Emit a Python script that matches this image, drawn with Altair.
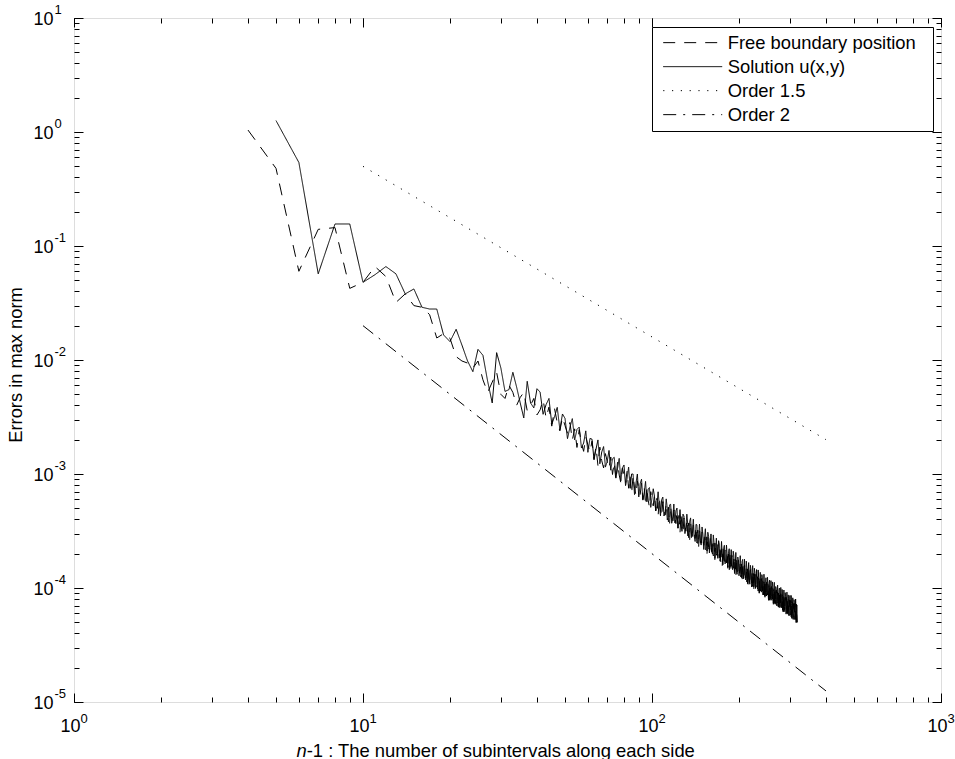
import altair as alt
import pandas as pd

# ---------------- data ----------------
names = ["Free boundary position", "Solution u(x,y)", "Order 1.5", "Order 2"]

# Free boundary position error, n-1 = 4 .. 40
fb_first_n = 4
fb_head = [1.04, 0.48, 0.06, 0.14, 0.145, 0.0425, 0.048, 0.066, 0.054, 0.032,
           0.038, 0.030, 0.029, 0.025, 0.0156, 0.017, 0.0155, 0.0107, 0.0098, 0.0094,
           0.0085, 0.0098, 0.0067, 0.0052, 0.0064, 0.0078, 0.0050, 0.0046, 0.0060, 0.0052,
           0.0040, 0.0047, 0.0052, 0.0036, 0.0040, 0.0046, 0.0033]
# n-1 = 41 .. 318, values in units of 1e-5
fb_tail_e5 = [
    365, 448, 310, 386, 263, 375, 282, 239, 315, 266,
    228, 283, 198, 249, 171, 245, 186, 158, 212, 180,
    156, 194, 136, 173, 119, 172, 131, 113, 151, 129,
    112, 141, 99, 127, 88, 128, 98, 84, 113, 97,
    84, 106, 75, 96, 67, 97, 75, 65, 87, 75,
    66, 83, 59, 76, 53, 77, 59, 51, 70, 60,
    52.5, 66.7, 47.5, 61.2, 42.9, 62.8, 48.5, 42.2, 57.3, 49.6,
    43.6, 55.4, 39.6, 51.1, 35.9, 52.8, 40.7, 35.5, 48.3, 41.7,
    36.7, 46.8, 33.5, 43.3, 30.5, 44.7, 34.6, 30.2, 41.1, 35.6,
    31.5, 40.0, 28.7, 37.2, 26.1, 38.4, 29.7, 26.0, 35.5, 30.8,
    27.2, 34.7, 24.9, 32.2, 22.7, 33.4, 25.9, 22.6, 30.9, 26.8,
    23.7, 30.3, 21.7, 28.1, 19.8, 29.2, 22.7, 19.8, 27.1, 23.6,
    20.8, 26.6, 19.1, 24.8, 17.5, 25.8, 20.1, 17.6, 24.0, 20.9,
    18.4, 23.7, 17.0, 22.1, 15.6, 23.0, 17.9, 15.7, 21.5, 18.7,
    16.6, 21.2, 15.3, 19.8, 14.0, 20.7, 16.1, 14.1, 19.3, 16.8,
    14.9, 19.1, 13.8, 17.9, 12.6, 18.7, 14.5, 12.7, 17.5, 15.2,
    13.5, 17.3, 12.5, 16.2, 11.5, 16.9, 13.2, 11.5, 15.9, 13.8,
    12.2, 15.7, 11.3, 14.7, 10.4, 15.3, 12.0, 10.5, 14.5, 12.5,
    11.1, 14.3, 10.3, 13.4, 9.5, 14.1, 11.0, 9.7, 13.2, 11.5,
    10.2, 13.1, 9.4, 12.3, 8.7, 12.9, 10.0, 8.8, 12.1, 10.5,
    9.4, 12.0, 8.7, 11.3, 8.0, 11.9, 9.2, 8.1, 11.2, 9.8,
    8.7, 11.1, 8.0, 10.5, 7.4, 11.0, 8.6, 7.5, 10.3, 9.0,
    8.0, 10.3, 7.4, 9.7, 6.9, 10.2, 7.9, 7.0, 9.6, 8.4,
    7.4, 9.6, 6.9, 9.0, 6.4, 9.5, 7.4, 6.5, 8.9, 7.8,
    6.9, 8.9, 6.4, 8.4, 5.9, 8.8, 6.9, 6.1, 8.3, 7.3,
    6.5, 8.3, 6.0, 7.8, 5.6, 8.2, 6.4, 5.7, 7.8, 6.8,
    6.0, 7.8, 5.6, 7.3, 5.2, 7.7, 6.0, 5.3, 7.3, 6.4,
    5.7, 7.3, 5.3, 6.9, 4.9, 7.2, 5.7, 5.0,
]

# Solution u(x,y) error, n-1 = 5 .. 40
sol_first_n = 5
sol_head = [1.26, 0.54, 0.057, 0.156, 0.156, 0.048, 0.056, 0.066, 0.057, 0.038,
            0.042, 0.029, 0.028, 0.028, 0.0166, 0.0145, 0.0186, 0.0135, 0.0098, 0.0079,
            0.0124, 0.011, 0.0065, 0.0042, 0.0116, 0.0085, 0.0053, 0.0055, 0.0078, 0.0058,
            0.0042, 0.0031, 0.0065, 0.0042, 0.0038, 0.0056]
# n-1 = 41 .. 318, values in units of 1e-5
sol_tail_e5 = [
    523, 334, 406, 460, 274, 318, 384, 245, 336, 308,
    204, 257, 306, 199, 246, 258, 169, 187, 239, 155,
    205, 202, 133, 165, 199, 123, 156, 174, 115, 129,
    161, 108, 136, 140, 92, 112, 137, 87, 113, 120,
    79, 91, 115, 75, 100, 100, 66, 83, 100, 63,
    82, 90, 60, 69, 86, 57, 74, 76, 51, 62,
    74.2, 63.6, 47.5, 52.5, 69.8, 53.3, 43.0, 59.5, 62.7, 42.8,
    45.1, 60.5, 49.5, 38.0, 53.6, 54.2, 37.0, 41.9, 54.5, 37.3,
    47.5, 50.2, 33.5, 39.1, 48.7, 35.9, 31.4, 44.5, 42.7, 30.0,
    34.0, 44.4, 35.9, 27.6, 38.3, 41.2, 27.7, 30.0, 40.1, 28.5,
    25.6, 36.2, 35.8, 24.6, 27.8, 36.4, 25.0, 23.8, 34.3, 29.6,
    21.8, 27.5, 33.1, 24.1, 21.1, 30.8, 28.4, 20.3, 23.8, 29.8,
    20.8, 19.8, 29.2, 24.8, 18.2, 21.9, 27.4, 19.8, 18.2, 26.0,
    24.3, 17.2, 19.1, 25.6, 19.8, 16.0, 22.3, 23.7, 16.3, 17.7,
    23.8, 19.3, 14.9, 20.8, 22.1, 14.8, 16.8, 21.7, 15.2, 14.5,
    21.0, 19.1, 13.4, 16.2, 20.5, 14.7, 13.2, 18.7, 17.8, 12.8,
    14.6, 19.2, 15.3, 12.3, 17.1, 17.8, 12.0, 13.3, 17.9, 12.3,
    11.8, 17.2, 14.8, 10.9, 13.2, 16.7, 12.0, 10.8, 15.8, 14.5,
    10.2, 13.0, 15.7, 11.5, 10.2, 14.9, 13.8, 9.9, 11.6, 14.5,
    10.2, 9.8, 14.4, 12.3, 9.0, 10.9, 13.7, 9.9, 9.2, 13.1,
    12.3, 8.7, 9.8, 13.2, 10.2, 8.3, 11.6, 12.3, 8.5, 9.3,
    12.4, 10.1, 7.8, 11.0, 11.7, 7.8, 8.9, 11.6, 8.1, 7.8,
    11.3, 10.3, 7.2, 8.8, 11.2, 8.0, 7.2, 10.3, 9.8, 7.0,
    8.1, 10.6, 8.5, 6.8, 9.5, 10.0, 6.7, 7.5, 10.1, 7.0,
    6.7, 9.7, 8.4, 6.2, 7.5, 9.6, 6.9, 6.2, 9.1, 8.4,
    5.9, 7.6, 9.2, 6.7, 5.9, 8.7, 8.0, 5.8, 6.8, 8.6,
    6.0, 5.8, 8.6, 7.3, 5.4, 6.5, 8.2, 6.0, 5.5, 7.9,
    7.5, 5.3, 5.9, 8.0, 6.2, 5.0, 7.1, 5.0,
]

order15_n = [10, 400]
order15_err = [0.5, 0.002]
order2_n = [10, 400]
order2_err = [0.02, 1.25e-5]

x_major = [1, 10, 100, 1000]
y_major = [1e-5, 1e-4, 1e-3, 1e-2, 1e-1, 1, 10]

# ---------------- table ----------------
rows = []
fb_vals = fb_head + [v * 1e-5 for v in fb_tail_e5]
for i, v in enumerate(fb_vals):
    rows.append({"n": fb_first_n + i, "err": v, "series": names[0]})
sol_vals = sol_head + [v * 1e-5 for v in sol_tail_e5]
for i, v in enumerate(sol_vals):
    rows.append({"n": sol_first_n + i, "err": v, "series": names[1]})
for n, v in zip(order15_n, order15_err):
    rows.append({"n": n, "err": v, "series": names[2]})
for n, v in zip(order2_n, order2_err):
    rows.append({"n": n, "err": v, "series": names[3]})
df = pd.DataFrame(rows)

x_minor = [m * d for d in (1, 10, 100) for m in range(1, 10)] + [1000]
y_minor = [m * 10.0 ** e for e in range(-5, 1) for m in range(1, 10)] + [10]

FONT = "Liberation Sans"
W, H = 867, 684

xscale = alt.Scale(type="log", domain=[1, 1000], nice=False)
yscale = alt.Scale(type="log", domain=[1e-5, 10], nice=False)

exp_expr = ("abs(log(datum.value)/LN10 - round(log(datum.value)/LN10)) < 0.001 ? "
            "'' + round(log(datum.value)/LN10) : ''")

common = dict(domain=False, grid=False, tickColor="black", tickWidth=1,
              labelColor="black", labelFont=FONT, labelFlush=False,
              labelOverlap=False, titleColor="black", titleFont=FONT)

ax_x_major_bottom = alt.Axis(orient="bottom", values=x_major, tickSize={"expr": "-9"},
                             labelExpr="'10'", labelFontSize=18, labelPadding=24, labelOffset=-4,
                             title="-1 : The number of subintervals along each side",
                             titleFontSize=18.4, titleFontWeight="normal", titleAlign="left",
                             titleX=232.2, titleY=54, titleBaseline="alphabetic", **common)
ax_x_minor_bottom = alt.Axis(orient="bottom", values=x_minor, tickSize={"expr": "-5"},
                             labelExpr=exp_expr, labelFontSize=13, labelAlign="left",
                             labelPadding=15, labelOffset=6,
                             title="n", titleFontSize=18.4, titleFontWeight="normal",
                             titleFontStyle="italic", titleAlign="left",
                             titleX=222, titleY=54, titleBaseline="alphabetic", **common)
ax_x_major_top = alt.Axis(orient="top", values=x_major, tickSize={"expr": "-9"},
                          labels=False, title=None, **common)
ax_x_minor_top = alt.Axis(orient="top", values=x_minor, tickSize={"expr": "-5"},
                          labels=False, title=None, **common)

ax_y_major_left = alt.Axis(orient="left", values=y_major, tickSize={"expr": "-9"},
                           labelExpr="'10'", labelFontSize=18, labelPadding=30,
                           labelAlign="right", labelBaseline="middle", labelOffset=1.5,
                           title="Errors in max norm", titleFontSize=18.3,
                           titleFontWeight="normal", titleX=-52.5, titleY=346.5,
                           titleBaseline="alphabetic", titleAlign="center", titleAngle=270,
                           **common)
ax_y_minor_left = alt.Axis(orient="left", values=y_minor, tickSize={"expr": "-5"},
                           labelExpr=exp_expr, labelFontSize=13, labelAlign="left",
                           labelBaseline="middle", labelPadding=25, labelOffset=-9,
                           title=None, **common)
ax_y_major_right = alt.Axis(orient="right", values=y_major, tickSize={"expr": "-9"},
                            labels=False, title=None, **common)
ax_y_minor_right = alt.Axis(orient="right", values=y_minor, tickSize={"expr": "-5"},
                            labels=False, title=None, **common)

# a blank (non-whitespace) braille character widens the legend box on the right
legend = alt.Legend(title=None, orient="none", legendX=578, legendY=9,
                    symbolType="stroke", symbolSize=3481, symbolStrokeWidth=1,
                    symbolStrokeColor="black", labelFontSize=18.4, labelFont=FONT,
                    labelColor="black", labelLimit=400, clipHeight=23.3, rowPadding=0,
                    padding=4, strokeColor="black", fillColor="white",
                    labelOffset=5, symbolOffset=6.7,
                    labelExpr="datum.label + '\u2800'")

dash = alt.StrokeDash("series:N",
                      scale=alt.Scale(domain=names,
                                      range=[[12, 9], [1, 0], [1.2, 7.6], [13, 7, 2, 7]]),
                      legend=legend)

base = alt.Chart(df)


def layer(name, xaxis, yaxis):
    return base.transform_filter(alt.datum.series == name).mark_line(
        color="black", strokeWidth=1, clip=True
    ).encode(
        x=alt.X("n:Q", scale=xscale, axis=xaxis),
        y=alt.Y("err:Q", scale=yscale, axis=yaxis),
        strokeDash=dash,
    )


chart = alt.layer(
    layer(names[0], ax_x_major_bottom, ax_y_major_left),
    layer(names[1], ax_x_minor_bottom, ax_y_minor_left),
    layer(names[2], ax_x_major_top, ax_y_major_right),
    layer(names[3], ax_x_minor_top, ax_y_minor_right),
).resolve_axis(x="independent", y="independent").properties(
    width=W, height=H,
    padding={"left": 74, "top": 18, "right": 14, "bottom": 57},
    autosize=alt.AutoSizeParams(type="none"),
    background="white",
).configure_view(stroke="black", strokeWidth=1).configure(font=FONT)

chart.save("out.html", embed_options={"renderer": "svg", "actions": False})
